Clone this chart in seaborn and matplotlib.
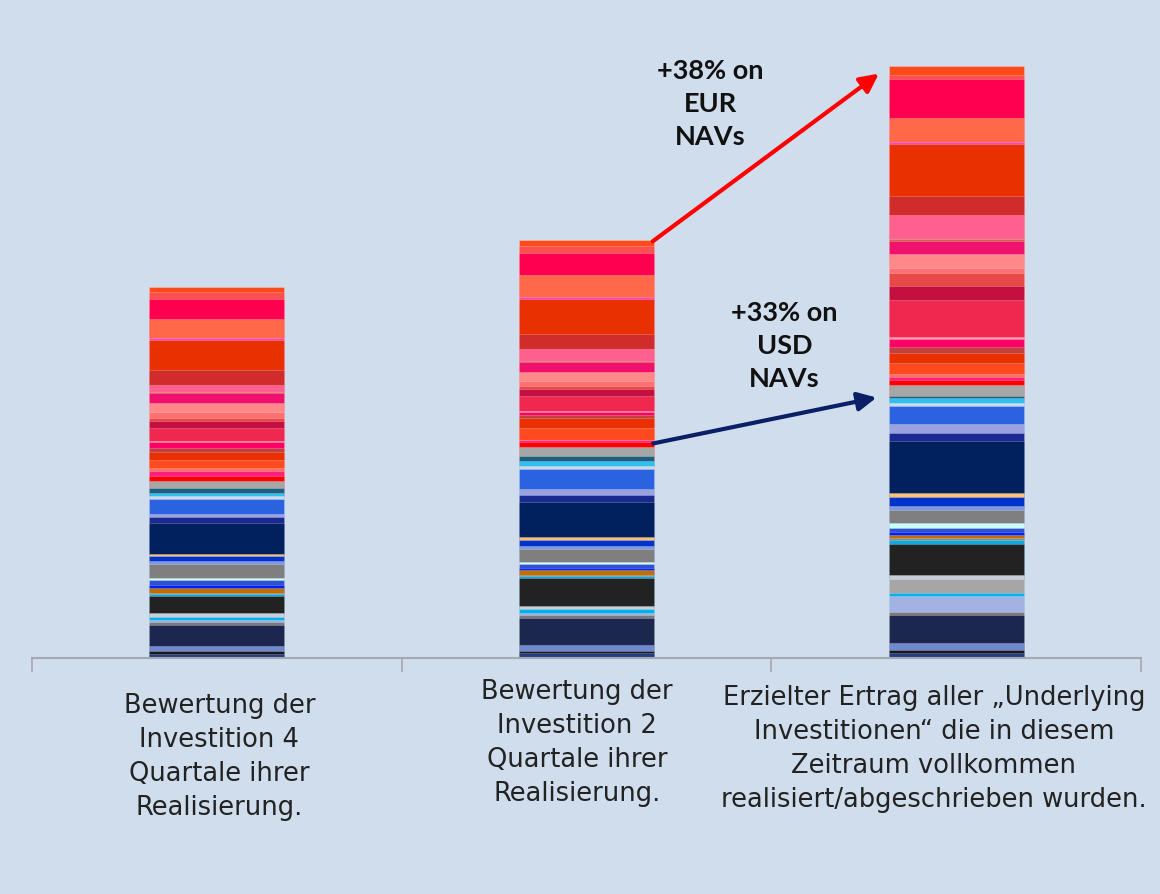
import numpy as np
import pandas as pd
import matplotlib
matplotlib.use("Agg")
import matplotlib.pyplot as plt
import seaborn as sns

# Categories (bars) and their labels
bars = ["A", "B", "C"]
labels = [
    "Bewertung der\nInvestition 4\nQuartale ihrer\nRealisierung.",
    "Bewertung der\nInvestition 2\nQuartale ihrer\nRealisierung.",
    "Erzielter Ertrag aller \u201eUnderlying\nInvestitionen\u201c die in diesem\nZeitraum vollkommen\nrealisiert/abgeschrieben wurden.",
]

# Segment colours, bottom to top
seg_colors = [
    "#263c82", "#181818", "#7088d0", "#1b274f", "#7a7a7a", "#a2b2e2", "#00b0f0",
    "#a6a6a6", "#c8ced8", "#222222", "#10a8e0", "#8a8a8a", "#c07000", "#0020ff",
    "#3050d0", "#c8ffff", "#7f7f7f", "#7f9ae0", "#0033cc", "#ffc070", "#00215e",
    "#1a2a90", "#9aa2e0", "#2a62e0", "#d0d8e8", "#30c0f0", "#1f5f80", "#a6a6a6",
    "#ff0000", "#ff2080", "#ff7060", "#ff4a20", "#e83000", "#c04040", "#ff0066",
    "#ff9ab0", "#f02850", "#c41040", "#e84848", "#ff7070", "#ff8888", "#f0106e",
    "#d06040", "#ff6090", "#d02c2c", "#e83000", "#ff40c0", "#ff6848", "#ff0050",
    "#ff5050", "#ff4a1a",
]

# Segment values per bar (bottom to top)
bar1 = [4, 3, 5, 21, 3, 2, 3, 0, 4, 17, 2, 1, 5, 3, 5, 2, 14, 3, 5, 2, 31,
        6, 3, 15, 3, 3, 5, 7, 5, 5, 3, 8, 8, 4, 6, 1, 13, 7, 3, 6, 9, 10,
        1, 7, 15, 30, 2, 19, 20, 7, 5]
bar2 = [5, 2, 6, 27, 3, 2, 4, 0, 3, 28, 2, 1, 5, 2, 4, 2, 13, 3, 6, 3, 35,
        7, 6, 20, 3, 5, 5, 9, 5, 2, 0, 12, 10, 3, 3, 1, 15, 7, 3, 5, 9, 10,
        1, 12, 15, 35, 2, 22, 22, 7, 6]
bar3 = [5, 3, 7, 28, 3, 16, 3, 14, 4, 31, 4, 2, 3, 3, 4, 5, 13, 4, 9, 4, 52,
        8, 9, 18, 3, 5, 2, 11, 5, 3, 3, 11, 10, 6, 8, 2, 37, 14, 13, 5, 14, 13,
        2, 24, 19, 52, 2, 24, 39, 4, 9]

bg = "#cfdded"
sns.set_theme(style="white")
plt.rcParams["font.family"] = ["DejaVu Sans"]

fig = plt.figure(figsize=(11.6, 8.95), dpi=100, facecolor=bg)
ax = fig.add_axes([32 / 1160, 1 - 659 / 895, 1109 / 1160, 629 / 895])
ax.set_facecolor(bg)

vals = np.array([bar1, bar2, bar3])
cum = np.cumsum(vals, axis=1)

# draw cumulative heights from the top segment down so lower ones overpaint
for i in range(len(seg_colors) - 1, -1, -1):
    df = pd.DataFrame({"bar": bars, "height": cum[:, i]})
    sns.barplot(data=df, x="bar", y="height", color=seg_colors[i], width=0.365,
                saturation=1, edgecolor=(1, 1, 1, 0.3), linewidth=0.5, ax=ax)

ax.set_xlim(-0.5, 2.5)
ax.set_ylim(0, 629)
ax.set_xlabel("")
ax.set_ylabel("")
ax.set_yticks([])
ax.set_xticks([-0.5, 0.5, 1.5, 2.5])
ax.set_xticklabels([])
ax.tick_params(axis="x", direction="out", length=10, width=1.2, color="#a4a8b0", bottom=True)
for s in ["left", "right", "top"]:
    ax.spines[s].set_visible(False)
ax.spines["bottom"].set_color("#a4a8b0")
ax.spines["bottom"].set_linewidth(1.5)

# category labels (not exactly centred under the bars in the original)
label_x = [0.007, 0.975, 1.94]
label_y = [-98, -84, -90]
for lab, x, y in zip(labels, label_x, label_y):
    ax.text(x, y, lab, ha="center", va="center", fontsize=18.5, color="#222222",
            family="DejaVu Sans", linespacing=1.4, clip_on=False)

# arrows
ax.annotate("", xy=(1.797, 586), xytext=(1.173, 415),
            arrowprops=dict(arrowstyle="-|>", color="#ff0000", lw=3, mutation_scale=28))
ax.annotate("", xy=(1.792, 261), xytext=(1.173, 214),
            arrowprops=dict(arrowstyle="-|>", color="#0a1f66", lw=3, mutation_scale=28))

ax.text(1.335, 555, "+38% on\nEUR\nNAVs", ha="center", va="center", fontsize=19.5,
        fontweight="bold", family="Lato", color="#111111", linespacing=1.45)
ax.text(1.535, 313, "+33% on\nUSD\nNAVs", ha="center", va="center", fontsize=19.5,
        fontweight="bold", family="Lato", color="#111111", linespacing=1.45)

fig.savefig("out.png", dpi=100, facecolor=bg)
